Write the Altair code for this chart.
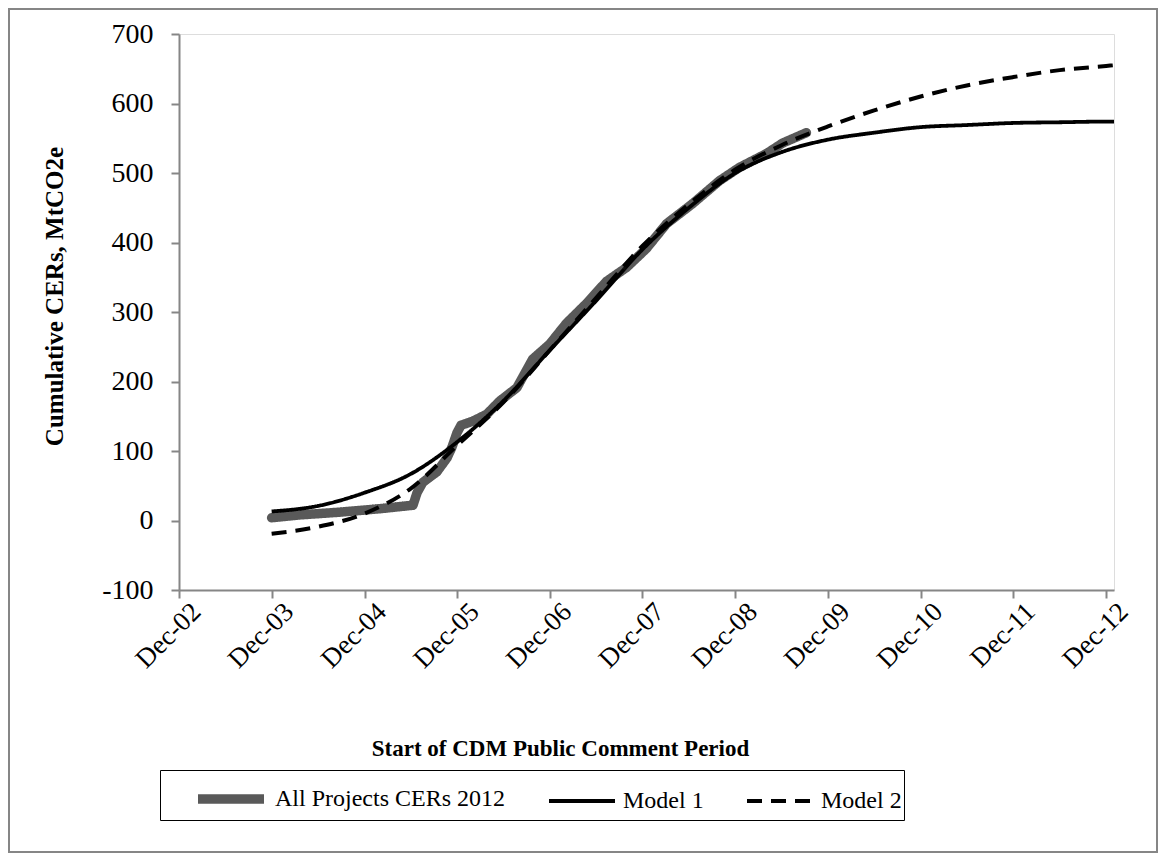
import altair as alt
import pandas as pd

# ---------------- data ----------------
obs_dates = ["2003-12-01", "2004-03-20", "2004-08-26", "2005-02-01", "2005-06-10",
             "2005-06-26", "2005-07-19", "2005-09-12", "2005-10-22", "2005-11-10",
             "2005-11-30", "2005-12-16", "2006-02-01", "2006-03-28", "2006-05-18",
             "2006-07-24", "2006-09-24", "2006-12-01", "2007-02-05", "2007-04-24",
             "2007-07-12", "2007-09-29", "2007-12-16", "2008-03-05", "2008-06-16",
             "2008-09-30", "2008-12-17", "2009-04-03", "2009-06-05", "2009-09-07"]
obs_values = [4, 8, 12, 17, 22,
              40, 55, 70, 90, 105,
              126, 137, 143, 153, 172,
              191, 232, 254, 284, 312,
              344, 364, 391, 427, 456,
              489, 508, 528, 543, 558]

model_dates = ["2003-12-01", "2004-06-01", "2004-12-01", "2005-06-01", "2005-12-01",
               "2006-06-01", "2006-12-01", "2007-06-01", "2007-12-01", "2008-06-01",
               "2008-12-01", "2009-06-01", "2009-12-01", "2010-06-01", "2010-12-01",
               "2011-06-01", "2011-12-01", "2012-06-01", "2012-12-01", "2013-01-01"]
model1_values = [13, 21, 40, 67, 113, 172, 245, 316, 390, 450,
                 500, 530, 548, 558, 566, 569, 572, 573, 574, 574]
model2_values = [-19, -9, 10, 46, 108, 170, 245, 320, 395, 455,
                 505, 540, 567, 590, 610, 626, 638, 648, 654, 655]

series_names = ["All Projects CERs 2012", "Model 1", "Model 2"]
tick_years = list(range(2002, 2013))
y_ticks = [-100, 0, 100, 200, 300, 400, 500, 600, 700]

FONT = "Liberation Serif"

obs = pd.DataFrame({"date": obs_dates, "value": obs_values, "series": series_names[0]})
mod = pd.DataFrame({
    "date": model_dates + model_dates,
    "value": model1_values + model2_values,
    "series": [series_names[1]] * len(model_dates) + [series_names[2]] * len(model_dates),
})

color_scale = alt.Scale(domain=series_names, range=["#595959", "#000000", "#000000"])
dash_scale = alt.Scale(domain=series_names, range=[[1, 0], [1, 0], [15, 9]])
width_scale = alt.Scale(type="ordinal", domain=series_names, range=[9.5, 3.8, 4])

x_scale = alt.Scale(type="utc", domain=[alt.DateTime(year=2002, month=12, date=1, utc=True),
                                        alt.DateTime(year=2013, month=1, date=1, utc=True)])
y_scale = alt.Scale(domain=[-100, 700], nice=False, zero=False)

x_axis = alt.Axis(
    values=[alt.DateTime(year=y, month=12, date=1, utc=True) for y in tick_years],
    format="%b-%y", labelAngle=-45, labelAlign="right", labelBaseline="top",
    labelPadding=0, labelOffset=8, labelFontSize=27, labelFont=FONT, labelColor="black",
    tickSize=8, tickWidth=2, tickColor="#868686", domainColor="#868686", domainWidth=2,
    grid=False, title="Start of CDM Public Comment Period", titleFont=FONT,
    titleFontSize=23, titleFontWeight="bold", titleColor="black",
    titleX=381, titleY=165, titleBaseline="alphabetic", titleAlign="center",
    labelOverlap=False, labelFlush=False,
)
y_axis = alt.Axis(
    values=y_ticks, labelExpr="'' + datum.value", labelFontSize=28, labelFont=FONT,
    labelColor="black", labelPadding=18,
    tickSize=8, tickWidth=2, tickColor="#868686", domainColor="#868686", domainWidth=2,
    grid=False, title="Cumulative CERs, MtCO2e", titleFont=FONT, titleFontSize=25,
    titleFontWeight="bold", titleColor="black", titleX=-112, titleY=262,
    titleAngle=-90, titleAlign="center", titleBaseline="bottom",
)

NB = "\u00a0"
legend = alt.Legend(
    title=None, orient="none", legendX=-19, legendY=736, direction="horizontal",
    symbolType="M-1.5,0H1.5", symbolSize=1936, symbolOffset=42,
    labelFont=FONT, labelFontSize=24, labelColor="black", labelOffset=17,
    labelLimit=600, columnPadding=10, padding=2,
    labelExpr="datum.label == 'Model 2' ? datum.label + '" + NB * 7 + "' : datum.label",
    strokeColor="black",
)

enc_common = dict(
    x=alt.X("date:T", scale=x_scale, axis=x_axis),
    y=alt.Y("value:Q", scale=y_scale, axis=y_axis),
    color=alt.Color("series:N", scale=color_scale, legend=legend, sort=series_names),
    strokeDash=alt.StrokeDash("series:N", scale=dash_scale, legend=legend, sort=series_names),
    strokeWidth=alt.StrokeWidth("series:N", scale=width_scale, legend=legend, sort=series_names),
)

obs_line = alt.Chart(obs).mark_line(strokeCap="round", strokeJoin="round").encode(**enc_common)
mod_line = alt.Chart(mod).mark_line(strokeCap="butt", interpolate="monotone").encode(**enc_common)

frame = alt.Chart(alt.Data(values=[{"a": 1}])).mark_rect(
    fillOpacity=0, stroke="#868686", strokeWidth=2
).encode(x=alt.value(-170), x2=alt.value(978), y=alt.value(-25), y2=alt.value(818))

chart = alt.layer(frame, obs_line, mod_line).properties(
    width=935, height=556,
    autosize=alt.AutoSizeParams(type="none"),
    padding={"left": 171, "top": 26, "right": 44, "bottom": 264},
).configure_view(stroke="black", strokeWidth=1.5).configure(background="white")

chart.save("out.html", embed_options={"renderer": "svg", "actions": False})
